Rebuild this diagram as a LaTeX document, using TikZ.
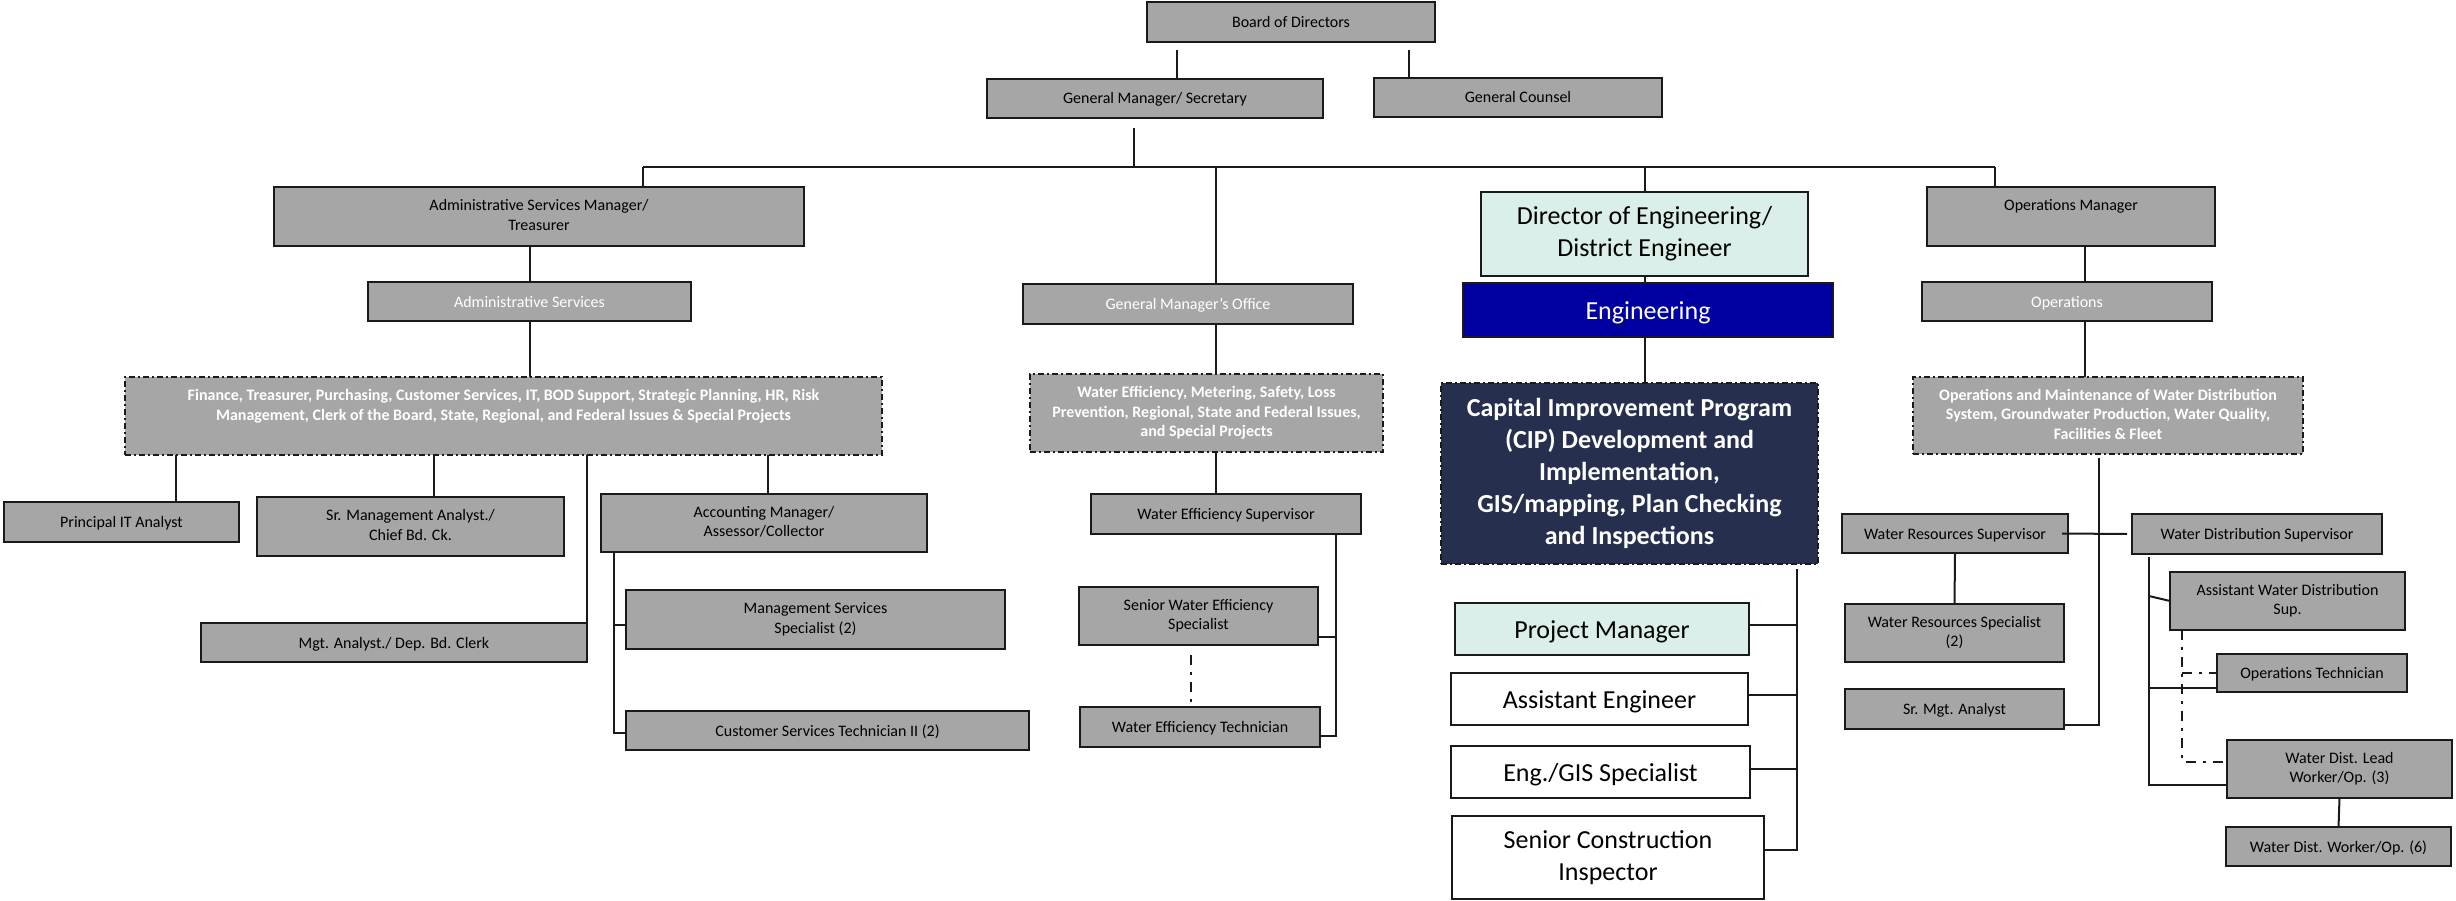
\documentclass[tikz,border=0pt]{standalone}
\usepackage{fontspec}
\setmainfont{Carlito}
\definecolor{gry}{HTML}{A6A6A6}
\definecolor{mint}{HTML}{DAEFE9}
\definecolor{engblue}{HTML}{0000A0}
\definecolor{navy}{HTML}{262F4E}
\definecolor{edge}{HTML}{1A1A1A}
\newcommand\FontA{\fontsize{16}{19.5}\selectfont}
\newcommand\FontAb{\fontsize{16}{19.5}\selectfont\bfseries}
\newcommand\FontB{\fontsize{26}{32}\selectfont}
\newcommand\FontBb{\fontsize{26}{32}\selectfont\bfseries}
\newcommand\bx[7]{\node[#6, minimum width={#4-#2}, minimum height={#5-#3}] (#1) at ({(#2+#4)/2},{(#3+#5)/2}) {#7};}
\begin{document}
\begin{tikzpicture}[x=1pt,y=-1pt,
  box/.style={draw=edge, line width=2.2pt, fill=gry, inner sep=0pt, outer sep=0pt, align=center, font=\FontA,
    execute at begin node={\rule{0pt}{14pt}}, execute at end node={\rule[-3pt]{0pt}{3pt}}},
  big/.style={execute at begin node={\rule{0pt}{24pt}}, execute at end node={\rule[-4pt]{0pt}{4pt}}},
  wbox/.style={box, text=white},
  ddbox/.style={box, text=white, font=\FontAb, dash pattern=on 6pt off 3pt on 2pt off 3pt},
  mintbox/.style={box, big, fill=mint, font=\FontB},
  whitebox/.style={box, big, fill=white, font=\FontB},
  engbox/.style={box, big, fill=engblue, text=white, font=\FontB},
  cipbox/.style={box, big, fill=navy, text=white, font=\FontBb, dash pattern=on 6pt off 3pt on 2pt off 3pt},
  ln/.style={draw=edge, line width=2pt},
  ddl/.style={draw=edge, line width=2pt, dash pattern=on 10pt off 7pt on 3pt off 7pt}]
\useasboundingbox (0,0) rectangle (2456,901);
% top
\bx{board}{1147}{2}{1435}{42}{box}{Board of Directors}
\bx{gm}{987}{79}{1323}{118}{box}{General Manager/ Secretary}
\bx{gc}{1374}{78}{1662}{117}{box}{General Counsel}
% admin column
\bx{asm}{274}{187}{804}{246}{box}{Administrative Services Manager/\\Treasurer}
\bx{as}{368}{282}{691}{321}{wbox}{Administrative Services}
\bx{fin}{125}{377}{882}{455}{ddbox}{Finance, Treasurer, Purchasing, Customer Services, IT, BOD Support, Strategic Planning, HR, Risk\\Management, Clerk of the Board, State, Regional, and Federal Issues \& Special Projects\\\mbox{}}
\bx{pit}{4}{502}{239}{542}{box}{Principal IT Analyst}
\bx{sma}{257}{497}{564}{556}{box}{Sr. Management Analyst./\\Chief Bd. Ck.}
\bx{acc}{601}{494}{927}{552}{box}{Accounting Manager/\\Assessor/Collector}
\bx{mga}{201}{623}{587}{662}{box}{Mgt. Analyst./ Dep. Bd. Clerk}
\bx{mss}{626}{590}{1005}{649}{box}{Management Services\\Specialist (2)}
\bx{cst}{626}{711}{1029}{750}{box}{Customer Services Technician II (2)}
% GM office column
\bx{gmo}{1023}{284}{1353}{324}{wbox}{General Manager’s Office}
\bx{we}{1030}{374}{1383}{452}{ddbox}{Water Efficiency, Metering, Safety, Loss\\Prevention, Regional, State and Federal Issues,\\and Special Projects}
\bx{wes}{1091}{494}{1361}{534}{box}{Water Efficiency Supervisor}
\bx{swes}{1079}{587}{1318}{645}{box}{Senior Water Efficiency\\Specialist}
\bx{wet}{1080}{707}{1320}{747}{box}{Water Efficiency Technician}
% engineering column
\bx{dir}{1481}{192}{1808}{276}{mintbox}{Director of Engineering/\\District Engineer}
\bx{eng}{1463}{283}{1833}{337}{engbox}{Engineering}
\bx{cip}{1441}{383}{1818}{564}{cipbox}{Capital Improvement Program\\(CIP) Development and\\Implementation,\\GIS/mapping, Plan Checking\\and Inspections}
\bx{pm}{1455}{603}{1749}{655}{mintbox}{Project Manager}
\bx{ae}{1451}{673}{1748}{725}{whitebox}{Assistant Engineer}
\bx{gis}{1451}{746}{1750}{798}{whitebox}{Eng./GIS Specialist}
\bx{sci}{1452}{816}{1764}{899}{whitebox}{Senior Construction\\Inspector}
% operations column
\bx{opm}{1927}{187}{2215}{246}{box}{Operations Manager\\\mbox{}}
\bx{ops}{1922}{282}{2212}{321}{wbox}{Operations}
\bx{om}{1913}{377}{2303}{454}{ddbox}{Operations and Maintenance of Water Distribution\\System, Groundwater Production, Water Quality,\\Facilities \& Fleet}
\bx{wrs}{1842}{514}{2068}{553}{box}{Water Resources Supervisor}
\bx{wds}{2132}{514}{2382}{554}{box}{Water Distribution Supervisor}
\bx{wrsp}{1845}{604}{2064}{662}{box}{Water Resources Specialist\\(2)}
\bx{sma2}{1845}{689}{2064}{729}{box}{Sr. Mgt. Analyst}
\bx{awds}{2170}{572}{2405}{630}{box}{Assistant Water Distribution\\Sup.}
\bx{opt}{2217}{654}{2407}{692}{box}{Operations Technician}
\bx{lead}{2227}{740}{2452}{798}{box}{Water Dist. Lead\\Worker/Op. (3)}
\bx{wkr}{2226}{827}{2451}{866}{box}{Water Dist. Worker/Op. (6)}
% helper coordinates
\coordinate (j1) at (1177,50);
\coordinate (j2) at (1409,50);
\coordinate (j3) at (1134,128);
\coordinate (busL) at (643,167.5);
\coordinate (busR) at (1995,167.5);
\coordinate (j4) at (1216,167.5);
\coordinate (x1) at (176,0);
\coordinate (x2) at (434,0);
\coordinate (x3) at (768,0);
\coordinate (x4) at (614,0);
\coordinate (x5) at (1216,0);
\coordinate (x6) at (1336,0);
\coordinate (x7) at (1797,0);
\coordinate (x8) at (2085,0);
\coordinate (x9) at (2099,0);
\coordinate (x10) at (2149,0);
\coordinate (x11) at (2182,0);
\coordinate (x12) at (1191,0);
% connectors: top
\draw[ln] (j1) -- (j1 |- gm.north);
\draw[ln] (j2) -- (j2 |- gc.north);
\draw[ln] (j3) -- (j3 |- busL);
\draw[ln] (busL) -- (busR);
\draw[ln] (busL) -- (busL |- asm.north);
\draw[ln] (j4) -- (j4 |- gmo.north);
\draw[ln] (dir.north |- busL) -- (dir.north);
\draw[ln] (busR) -- (busR |- opm.north);
% admin
\draw[ln] (as.north |- asm.south) -- (as.north);
\draw[ln] (as.south) -- (as.south |- fin.north);
\draw[ln] (fin.south -| x1) -- (pit.north -| x1);
\draw[ln] (fin.south -| x2) -- (sma.north -| x2);
\draw[ln] (fin.south -| x3) -- (acc.north -| x3);
\draw[ln] (fin.south -| mga.north east) -- (mga.north east);
\draw[ln] (acc.south -| x4) |- ([yshift=-2pt]cst.west);
\draw[ln] ([yshift=-5pt]mss.west -| x4) -- ([yshift=-5pt]mss.west);
% GM office
\draw[ln] (gmo.south -| x5) -- (we.north -| x5);
\draw[ln] (we.south -| x5) -- (wes.north -| x5);
\draw[ln] (wes.south -| x6) |- ([yshift=-9pt]wet.east);
\draw[ln] ([yshift=-21pt]swes.east) -- ([yshift=-21pt]swes.east -| x6);
\draw[ddl] ([yshift=-10pt]swes.south -| x12) -- ([yshift=5pt]wet.north -| x12);
% engineering
\draw[ln] (dir.south) -- (dir.south |- eng.north);
\draw[ln] (eng.south -| dir.south) -- (cip.north -| dir.south);
\draw[ln] ([yshift=-5pt]cip.south -| x7) |- ([yshift=7.5pt]sci.east);
\draw[ln] ([yshift=4pt]pm.east) -- ([yshift=4pt]pm.east -| x7);
\draw[ln] ([yshift=4pt]ae.east) -- ([yshift=4pt]ae.east -| x7);
\draw[ln] ([yshift=3pt]gis.east) -- ([yshift=3pt]gis.east -| x7);
% operations
\draw[ln] (opm.south -| x8) -- (ops.north -| x8);
\draw[ln] (ops.south -| x8) -- (om.north -| x8);
\draw[ln] ([yshift=-3.5pt]om.south -| x9) |- ([yshift=-16pt]sma2.east);
\draw[ln] ([xshift=-6pt]wrs.east) -- ([xshift=-5pt]wds.west);
\draw[ln] (wrs.south) -- (wrsp.north);
\draw[ln] ([yshift=-3pt]wds.south -| x10) |- ([yshift=-16pt]lead.west);
\draw[ln] ([yshift=5pt]awds.west -| x10) -- (awds.west);
\draw[ln] ([yshift=-14.5pt]opt.west -| x10) -- ([yshift=-14.5pt]opt.west);
\draw[ln] (lead.south) -- (wkr.north);
\draw[ddl] (awds.south -| x11) |- ([yshift=7.5pt]lead.west);
\draw[ddl] (opt.west -| x11) -- (opt.west);
\end{tikzpicture}
\end{document}
